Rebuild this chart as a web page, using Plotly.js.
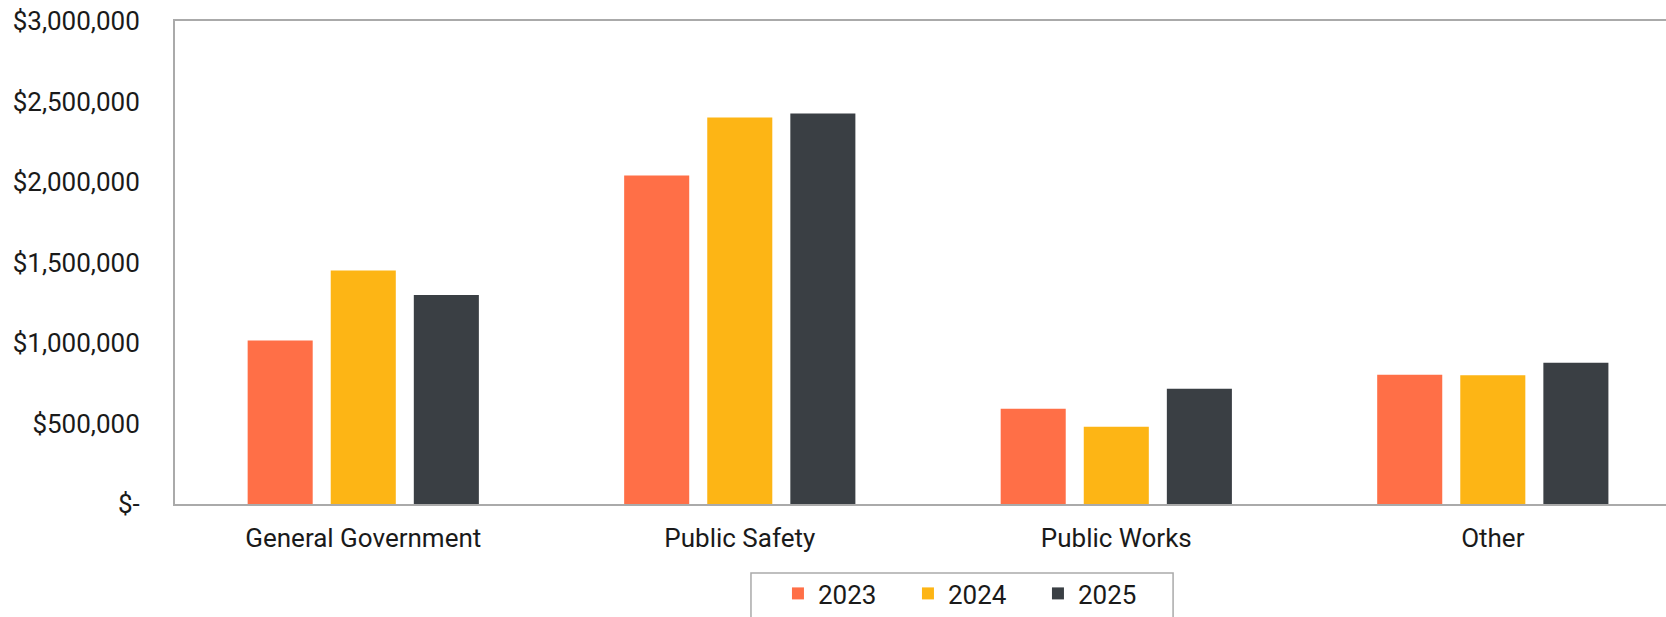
<!DOCTYPE html>
<html>
<head>
<meta charset="utf-8">
<script src="https://cdn.plot.ly/plotly-3.0.1.min.js"></script>
<style>html,body{margin:0;padding:0;background:#fff;}#chart{width:1666px;height:617px;}</style>
</head>
<body>
<div id="chart"></div>
<script>
const categories = ["General Government", "Public Safety", "Public Works", "Other"];
const years = ["2023", "2024", "2025"];
const values2023 = [1015000, 2040000, 592000, 803000];
const values2024 = [1450000, 2400000, 480000, 800000];
const values2025 = [1298000, 2425000, 716000, 877000];
const colors = ["#FF6F47", "#FDB515", "#3A3F44"];
const yTickVals = [0, 500000, 1000000, 1500000, 2000000, 2500000, 3000000];
const yTickText = ["$-", "$500,000", "$1,000,000", "$1,500,000", "$2,000,000", "$2,500,000", "$3,000,000"];

const series = [values2023, values2024, values2025];
const traces = series.map((vals, i) => ({
  type: "bar",
  name: years[i],
  x: categories,
  y: vals,
  marker: {color: colors[i], line: {width: 0}},
  hoverinfo: "skip"
}));

const family = "Roboto, Arial, sans-serif";
const layout = {
  width: 1666, height: 617,
  margin: {l: 175, r: 0, t: 21, b: 113, pad: 0},
  paper_bgcolor: "#fff", plot_bgcolor: "#fff",
  font: {family: family, size: 24, color: "#1a1a1a"},
  barmode: "group",
  bargap: 0.338,
  bargroupgap: 0.217,
  showlegend: true,
  legend: {
    orientation: "h", xref: "paper", x: 0.4044, xanchor: "left",
    yref: "container", y: 0, yanchor: "bottom",
    borderwidth: 0, bgcolor: "rgba(0,0,0,0)",
    font: {family: family, size: 26, color: "#1a1a1a"},
    traceorder: "normal", entrywidth: 85, entrywidthmode: "pixels"
  },
  shapes: [{
    type: "rect", xref: "paper", yref: "paper",
    x0: 0.3863, x1: 0.6694, y0: -0.1428, y1: -0.30,
    line: {color: "#aaaaaa", width: 1.5}, fillcolor: "rgba(0,0,0,0)", layer: "above"
  }],
  xaxis: {
    type: "category", range: [-0.5, 3.46],
    showline: true, linecolor: "#aaaaaa", linewidth: 2, mirror: true,
    showgrid: false, zeroline: false, ticks: "", ticklabelstandoff: 10,
    tickfont: {family: family, size: 26, color: "#1a1a1a"}, fixedrange: true
  },
  yaxis: {
    range: [0, 3000000], tickvals: yTickVals, ticktext: yTickText,
    showline: true, linecolor: "#aaaaaa", linewidth: 2, mirror: false,
    showgrid: false, zeroline: false, ticks: "", ticklabelstandoff: 28,
    tickfont: {family: family, size: 26, color: "#1a1a1a"}, fixedrange: true
  }
};
Plotly.newPlot("chart", traces, layout, {displayModeBar: false, staticPlot: true});
</script>
</body>
</html>
